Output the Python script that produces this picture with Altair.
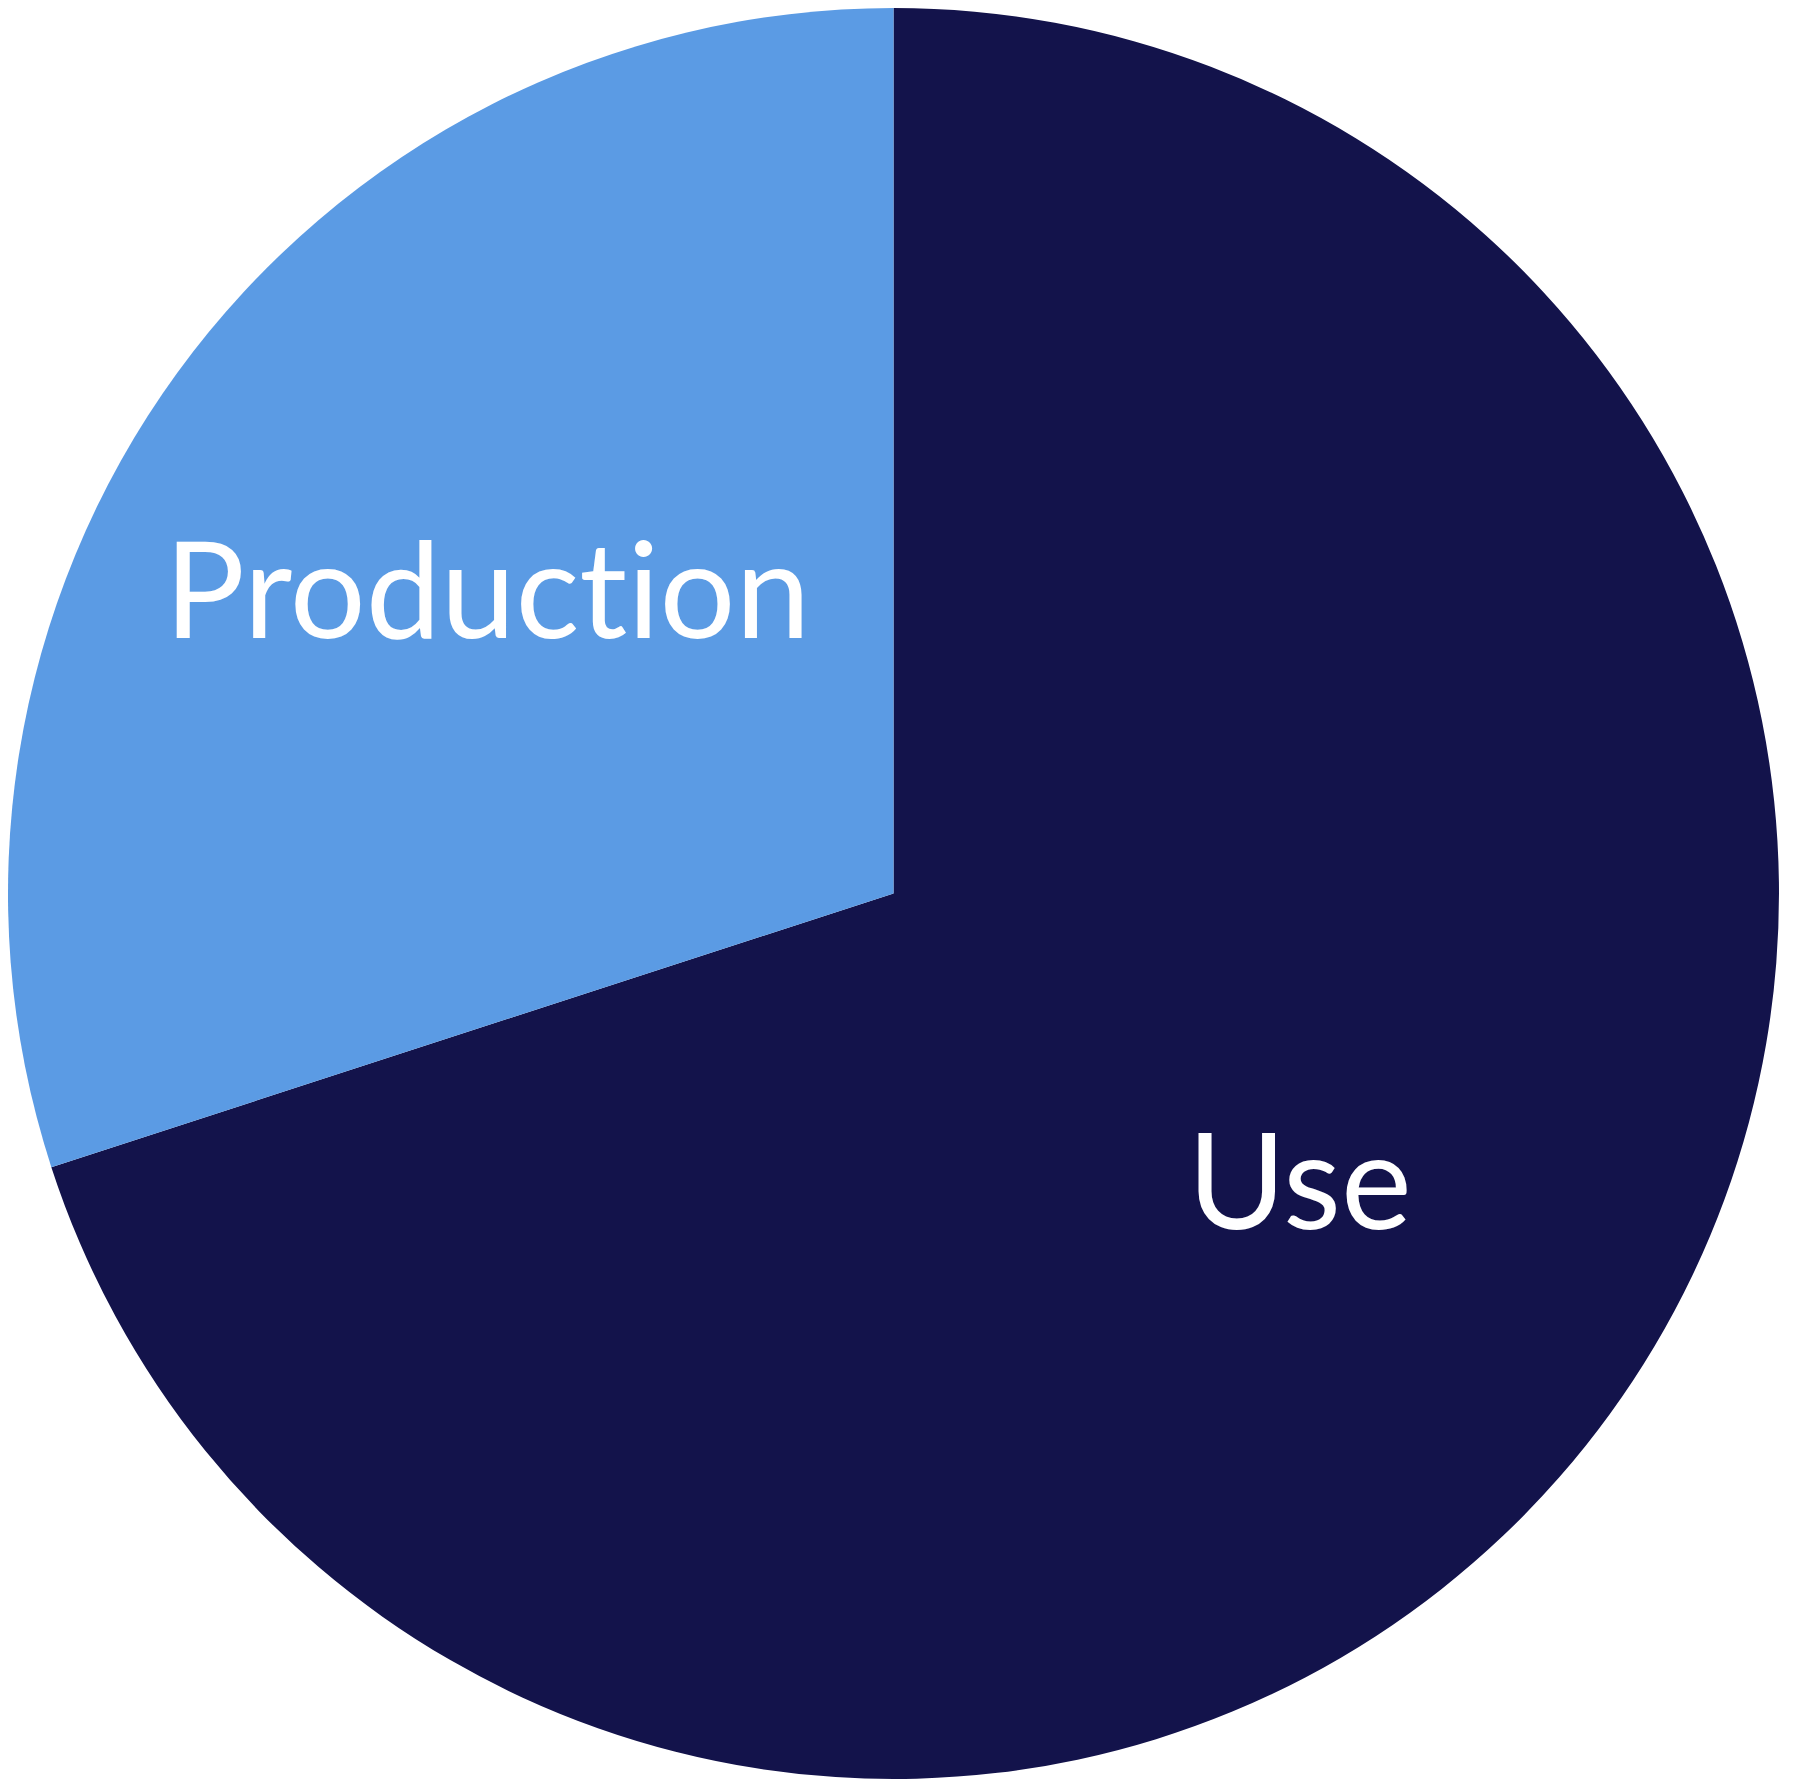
import altair as alt
import pandas as pd

# Data
categories = ["Use", "Production"]
# display labels (zero-width non-joiner keeps the font from fusing "t" and "i")
labels = ["Use", "Product\u200cion"]
shares = [70, 30]
order_idx = [0, 1]
colors = ["#13134B", "#5B9BE4"]

df = pd.DataFrame(
    {"category": categories, "label": labels, "share": shares, "idx": order_idx}
)

cx, cy, R = 885.5, 885.5, 885.5

base = alt.Chart(df).encode(
    theta=alt.Theta("share:Q", stack=True),
    order=alt.Order("idx:Q"),
    x=alt.value(cx),
    y=alt.value(cy),
)

arc = base.mark_arc(outerRadius=R).encode(
    color=alt.Color(
        "category:N",
        scale=alt.Scale(domain=categories, range=colors),
        legend=None,
    )
)

text = base.mark_text(
    radius=502,
    fontSize=134,
    font="Lato",
    fontWeight=400,
    color="white",
    align="center",
    baseline="middle",
).encode(text="label:N")

chart = (
    alt.layer(arc, text)
    .properties(
        width=1775,
        height=1775,
        autosize=alt.AutoSizeParams(type="none"),
        padding=0,
        background="white",
    )
    .configure_view(strokeOpacity=0)
)

chart.save("out.html", embed_options={"renderer": "svg", "actions": False})
